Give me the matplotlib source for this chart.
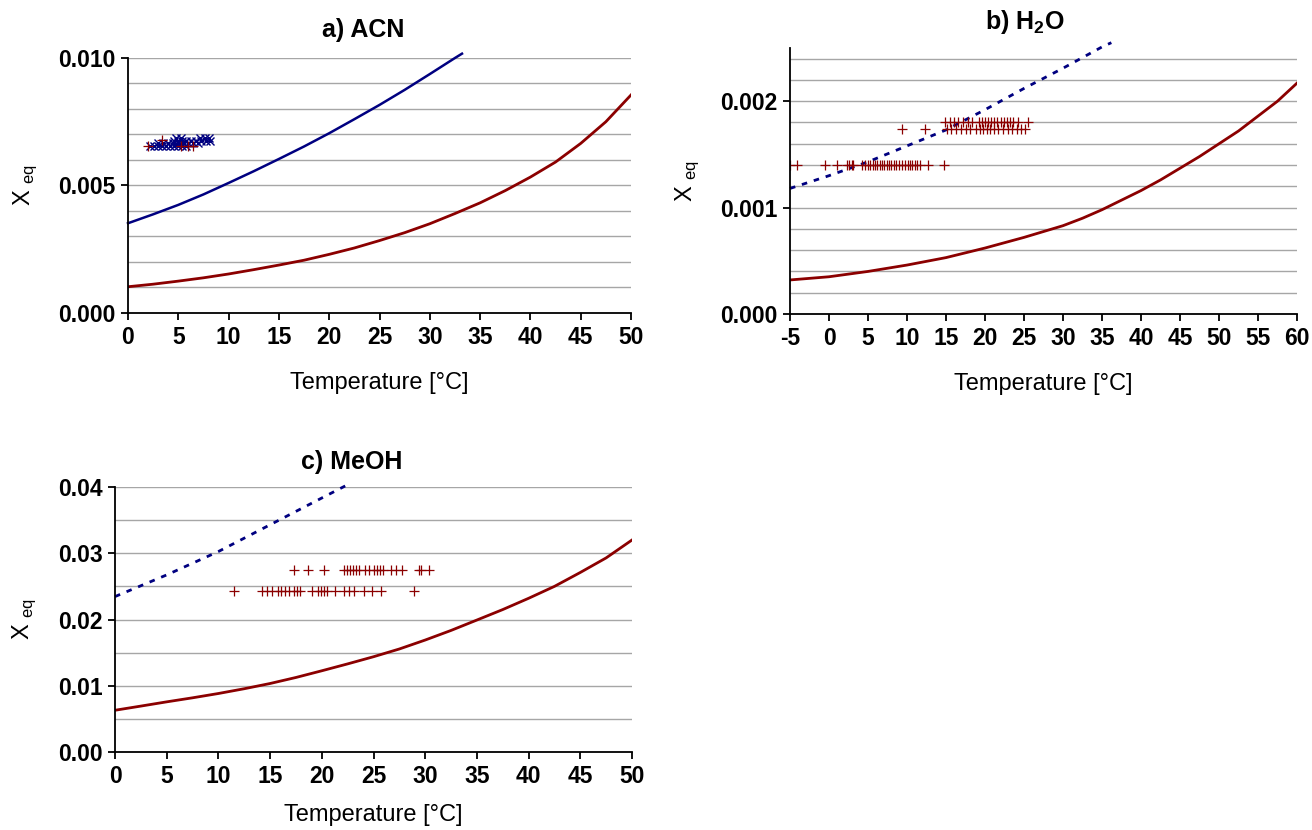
import numpy as np
import matplotlib
matplotlib.use('Agg')
import matplotlib.pyplot as plt
from matplotlib.ticker import MultipleLocator, FormatStrFormatter

plt.rcParams['font.family'] = ['Liberation Sans', 'DejaVu Sans']
plt.rcParams['mathtext.fontset'] = 'custom'
plt.rcParams['mathtext.rm'] = 'Liberation Sans'
plt.rcParams['mathtext.bf'] = 'Liberation Sans:bold'
plt.rcParams['axes.unicode_minus'] = False

BLUE = '#000080'
RED = '#8B0000'
GRID = '#a6a6a6'

# ---------------- a) ACN ----------------
a_T_curve = [0, 2.5, 5, 7.5, 10, 12.5, 15, 17.5, 20, 22.5, 25, 27.5, 30,
             32.5, 35, 37.5, 40, 42.5, 45, 47.5, 50]
a_red_curve = [0.00103, 0.00113, 0.00125, 0.00138, 0.00153, 0.00170, 0.00188,
               0.00207, 0.00230, 0.00255, 0.00284, 0.00315, 0.00350, 0.00390,
               0.00432, 0.00480, 0.00533, 0.00592, 0.00665, 0.00750, 0.00855]
a_T_blue = [0, 2.5, 5, 7.5, 10, 12.5, 15, 17.5, 20, 22.5, 25, 27.5, 30, 32.5,
            33.2]
a_blue_curve = [0.00352, 0.00387, 0.00424, 0.00465, 0.00510, 0.00556, 0.00604,
                0.00653, 0.00705, 0.00760, 0.00816, 0.00875, 0.00937, 0.01000,
                0.01017]
a_x_T = [2.2, 2.6, 3.0, 3.4, 3.8, 4.2, 4.6, 5.0, 5.4, 5.8,
         3.0, 3.5, 4.0, 4.5, 5.0, 5.5, 6.0, 6.5, 7.0,
         4.6, 5.0, 5.4, 5.8, 6.3, 6.8, 7.3, 7.8, 8.2,
         4.8, 5.3, 7.2, 7.7, 8.1]
a_x_val = [0.00655] * 10 + [0.00665] * 9 + [0.00675] * 9 + [0.00685] * 5
a_p_T = [2.0, 3.4, 5.3, 6.0, 6.5]
a_p_val = [0.00655, 0.00680, 0.00655, 0.00655, 0.00655]

# ---------------- b) H2O ----------------
b_T_curve = [-5, -2.5, 0, 2.5, 5, 7.5, 10, 12.5, 15, 17.5, 20, 22.5, 25, 27.5,
             30, 32.5, 35, 37.5, 40, 42.5, 45, 47.5, 50, 52.5, 55, 57.5, 60]
b_red_curve = [0.000320, 0.000335, 0.000350, 0.000375, 0.000400, 0.000430,
               0.000460, 0.000495, 0.000530, 0.000575, 0.000620, 0.000670,
               0.000720, 0.000775, 0.000830, 0.000900, 0.000980, 0.001070,
               0.001160, 0.001260, 0.001370, 0.001480, 0.001600, 0.001720,
               0.001860, 0.002000, 0.002170]
b_T_blue = [-5, 0, 5, 10, 15, 20, 25, 30, 35, 36.2]
b_blue_curve = [0.00118, 0.00130, 0.00143, 0.00158, 0.00173, 0.00192,
                0.00212, 0.00231, 0.00251, 0.00255]
b_low_T = [-5, -4.1, -0.5, 1.0, 2.3, 2.6, 2.9, 3.1, 4.2, 4.6, 5.0, 5.3, 5.6,
           5.9, 6.2, 6.5, 6.8, 7.1, 7.4, 7.7, 8.0, 8.3, 8.6, 9.0, 9.4, 9.8,
           10.1, 10.4, 10.7, 11.0, 11.3, 11.7, 12.7, 14.7]
b_mid_T = [9.3, 12.3, 15.1, 15.7, 16.3, 16.9, 17.5, 18.1, 18.9, 19.4, 19.8,
           20.3, 20.7, 21.2, 21.7, 22.3, 22.9, 23.5, 24.1, 24.6, 25.1]
b_high_T = [14.9, 15.5, 16.0, 16.6, 17.2, 17.8, 18.3, 19.2, 19.6, 20.0, 20.4,
            20.8, 21.2, 21.6, 22.0, 22.4, 22.8, 23.2, 23.6, 24.2, 25.5]
b_low_val, b_mid_val, b_high_val = 0.00140, 0.00174, 0.00180

# ---------------- c) MeOH ----------------
c_T_curve = [0, 2.5, 5, 7.5, 10, 12.5, 15, 17.5, 20, 22.5, 25, 27.5, 30, 32.5,
             35, 37.5, 40, 42.5, 45, 47.5, 50]
c_red_curve = [0.00630, 0.00693, 0.00757, 0.00818, 0.00883, 0.00955, 0.01034,
               0.01125, 0.01226, 0.01330, 0.01438, 0.01555, 0.01690, 0.01835,
               0.01992, 0.02150, 0.02320, 0.02500, 0.02710, 0.02930, 0.03200]
c_T_blue = [0, 5, 10, 15, 20, 22.5]
c_blue_curve = [0.02346, 0.02673, 0.03026, 0.0343, 0.03834, 0.04035]
c_up_T = [17.3, 18.7, 20.2, 22.1, 22.4, 22.7, 23.0, 23.3, 23.6, 24.2, 24.6,
          25.0, 25.3, 25.6, 25.9, 26.7, 27.2, 27.8, 29.4, 29.6, 30.4]
c_lo_T = [11.5, 14.2, 14.7, 15.2, 15.8, 16.1, 16.4, 16.8, 17.3, 17.6, 17.9,
          19.1, 19.6, 19.9, 20.2, 20.5, 21.3, 22.1, 22.6, 23.1, 24.1, 24.9,
          25.7, 28.9]
c_up_val, c_lo_val = 0.0274, 0.0243

W, H = 1312, 830
fig = plt.figure(figsize=(W / 100, H / 100), dpi=100)


def px_axes(left, right, top, bottom):
    return fig.add_axes([left / W, 1 - bottom / H, (right - left) / W,
                         (bottom - top) / H])


def style(ax, xlim, xstep, ylim, ymajor, yminor, yfmt, xpad=17):
    ax.set_xlim(*xlim)
    ax.set_ylim(*ylim)
    for s in ('top', 'right'):
        ax.spines[s].set_visible(False)
    for s in ('left', 'bottom'):
        ax.spines[s].set_linewidth(1.3)
    ax.xaxis.set_major_locator(MultipleLocator(xstep))
    ax.yaxis.set_major_locator(MultipleLocator(ymajor))
    ax.yaxis.set_minor_locator(MultipleLocator(yminor))
    ax.yaxis.set_major_formatter(FormatStrFormatter(yfmt))
    ax.tick_params(axis='both', which='major', direction='out', length=5,
                   width=1.3, labelsize=16.5, pad=4)
    ax.tick_params(axis='y', which='minor', length=0)
    for lbl in ax.get_xticklabels() + ax.get_yticklabels():
        lbl.set_fontweight('bold')
    ax.grid(True, axis='y', which='both', color=GRID, lw=1)
    ax.set_axisbelow(True)
    ax.set_xlabel('Temperature [°C]', fontsize=17, labelpad=xpad)
    ax.set_ylabel(r'X $_{\mathrm{eq}}$', fontsize=17, labelpad=14)


DOTS = (0, (2, 2.5))

# a)
ax1 = px_axes(128, 631, 58, 313)
style(ax1, (0, 50), 5, (0, 0.010), 0.005, 0.001, '%.3f')
ax1.plot(a_T_curve, a_red_curve, color=RED, lw=2)
ax1.plot(a_T_blue, a_blue_curve, color=BLUE, lw=1.8, clip_on=False)
ax1.plot(a_x_T, a_x_val, 'x', color=BLUE, ms=6, mew=1)
ax1.plot(a_p_T, a_p_val, '+', color=RED, ms=7, mew=0.9)
fig.text(363 / W, 1 - 30 / H, 'a) ACN', fontsize=18, fontweight='bold',
         ha='center', va='center')

# b)
ax2 = px_axes(790, 1297, 48, 314)
style(ax2, (-5, 60), 5, (0, 0.0025), 0.001, 0.0002, '%.3f')
ax2.plot(b_T_curve, b_red_curve, color=RED, lw=2)
ax2.plot(b_T_blue, b_blue_curve, color=BLUE, lw=2, ls=DOTS, clip_on=False)
ax2.plot(b_low_T, [b_low_val] * len(b_low_T), '+', color=RED, ms=7, mew=0.9)
ax2.plot(b_mid_T, [b_mid_val] * len(b_mid_T), '+', color=RED, ms=7, mew=0.9)
ax2.plot(b_high_T, [b_high_val] * len(b_high_T), '+', color=RED, ms=7, mew=0.9)
fig.text(1025 / W, 1 - 22 / H, r'b) H$_{\mathbf{2}}$O', fontsize=18,
         fontweight='bold', ha='center', va='center')

# c)
ax3 = px_axes(115, 632, 487, 752)
style(ax3, (0, 50), 5, (0, 0.04), 0.01, 0.005, '%.2f', xpad=12)
ax3.plot(c_T_curve, c_red_curve, color=RED, lw=2)
ax3.plot(c_T_blue, c_blue_curve, color=BLUE, lw=2, ls=DOTS, clip_on=False)
ax3.plot(c_up_T, [c_up_val] * len(c_up_T), '+', color=RED, ms=7, mew=0.9)
ax3.plot(c_lo_T, [c_lo_val] * len(c_lo_T), '+', color=RED, ms=7, mew=0.9)
fig.text(352 / W, 1 - 462 / H, 'c) MeOH', fontsize=18, fontweight='bold',
         ha='center', va='center')

fig.savefig('out.png', dpi=100)
